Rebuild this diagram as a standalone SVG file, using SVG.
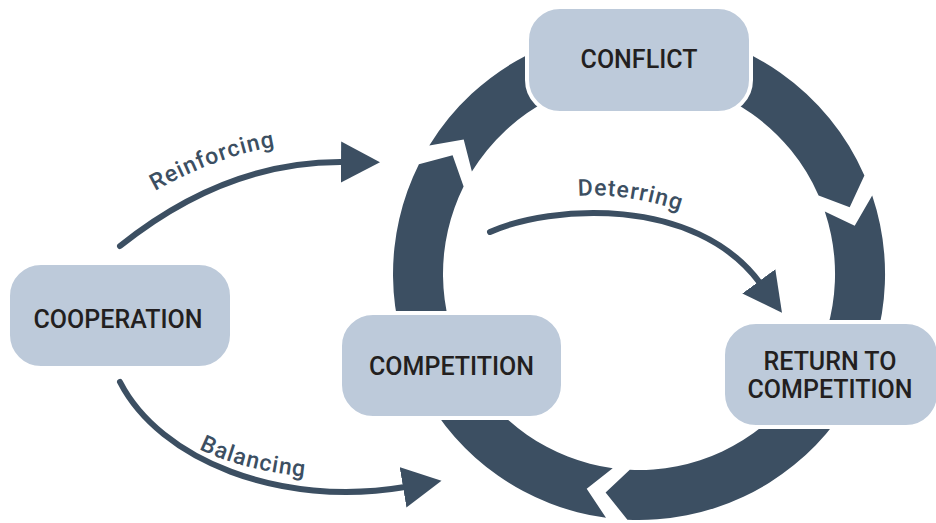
<svg xmlns="http://www.w3.org/2000/svg" width="936" height="523" viewBox="0 0 936 523">
<style>
.ring{fill:#3C4F62}
.box{fill:#BDCADA;stroke:#FFFFFF;stroke-width:4}
.nt{font-family:Roboto,"Liberation Sans",sans-serif;font-weight:500;font-size:25px;fill:#231F20;text-anchor:middle}
.edge{fill:none;stroke:#3C4F62;stroke-width:6;stroke-linecap:round}
.lbl{font-family:Roboto,"Liberation Sans",sans-serif;font-weight:500;font-size:23px;letter-spacing:1px;fill:#3C4F62}
</style>
<defs>
<marker id="ah" markerUnits="userSpaceOnUse" markerWidth="42" markerHeight="42" refX="2" refY="20.5" orient="auto">
<path d="M0,0 L39,20.5 L0,41 Z" fill="#3C4F62"/>
</marker>
<path id="tp-reinf" d="M155,191 Q228,150 300,143"/>
<path id="tp-bal" d="M199,449 Q245,472 320,478"/>
<path id="tp-det" d="M578,196 Q635,192 700,218"/>
</defs>
<g id="cycle">
<path class="ring" d="M429.3,145.5 A246,246 0 0 1 864.4,175.5 L849.7,207.2 L818.6,195.5 A196,196 0 0 0 471.9,171.6 L463.7,139.5 Z"/>
<path class="ring" d="M872.2,195.5 A246,246 0 0 1 627.4,519.7 L605.6,492.5 L629.8,469.8 A196,196 0 0 0 824.8,211.5 L854.7,225.8 Z"/>
<path class="ring" d="M606,517.8 A246,246 0 0 1 418.9,164.2 L452.6,155.3 L463.6,186.5 A196,196 0 0 0 612.7,468.2 L586.7,488.7 Z"/>
</g>
<g id="node-conflict">
<rect class="box" x="527" y="7" width="224" height="106" rx="33"/>
<text class="nt" x="639" y="68">CONFLICT</text>
</g>
<g id="node-competition">
<rect class="box" x="340" y="313" width="223" height="105" rx="33"/>
<text class="nt" x="451.5" y="375">COMPETITION</text>
</g>
<g id="node-return">
<rect class="box" x="723" y="322" width="216" height="105" rx="33"/>
<text class="nt" x="830" y="370">RETURN TO</text>
<text class="nt" x="830" y="398">COMPETITION</text>
</g>
<g id="node-cooperation">
<rect class="box" x="8" y="263" width="224" height="105" rx="33"/>
<text class="nt" x="118" y="328">COOPERATION</text>
</g>
<g id="connectors">
<path class="edge" d="M120,246 Q226,161 343,162" marker-end="url(#ah)"/>
<path class="edge" d="M120,382 C160,460 280,508 405,487" marker-end="url(#ah)"/>
<path class="edge" d="M490,232 C550,205 695,195 760,283" marker-end="url(#ah)"/>
<text class="lbl"><textPath href="#tp-reinf">Reinforcing</textPath></text>
<text class="lbl"><textPath href="#tp-bal">Balancing</textPath></text>
<text class="lbl"><textPath href="#tp-det">Deterring</textPath></text>
</g>
</svg>
